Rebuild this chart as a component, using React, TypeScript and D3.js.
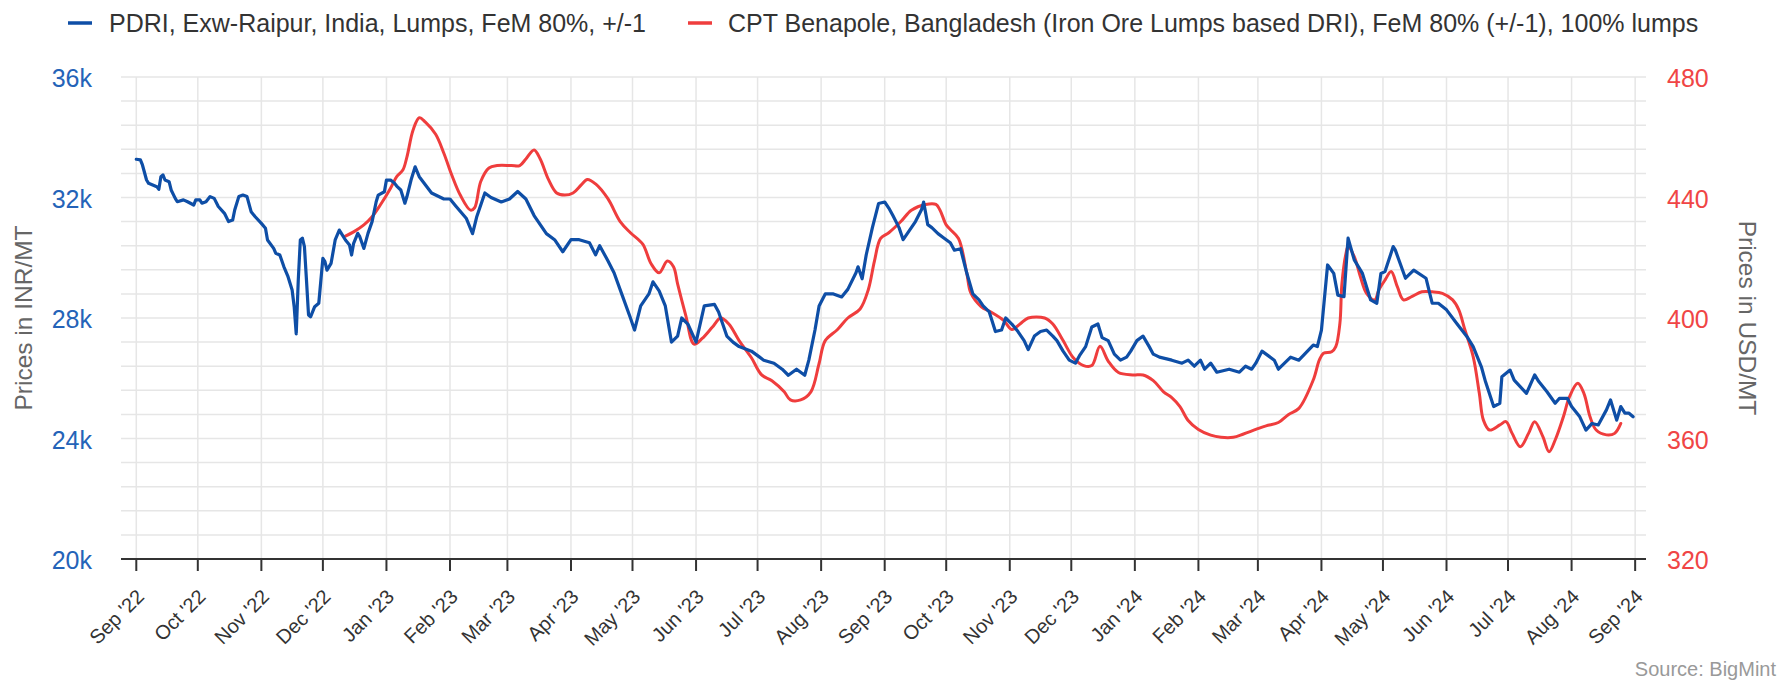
import React from 'react';
import * as d3 from 'd3';

const W = 1783;
const H = 681;
const M = { left: 121, right: 1646, top: 77, bottom: 559 };

const BLUE = '#0e4ea6';
const RED = '#ef3d3d';
const FONT = '"Liberation Sans", Arial, Helvetica, sans-serif';

const pdriLabel = 'PDRI, Exw-Raipur, India, Lumps, FeM 80%, +/-1';
const cptLabel = 'CPT Benapole, Bangladesh (Iron Ore Lumps based DRI), FeM 80% (+/-1), 100% lumps';
const leftTitle = 'Prices in INR/MT';
const rightTitle = 'Prices in USD/MT';
const sourceText = 'Source: BigMint';

const leftTicks = [20000, 24000, 28000, 32000, 36000];
const leftTickLabels = ['20k', '24k', '28k', '32k', '36k'];
const rightTicks = [320, 360, 400, 440, 480];
const rightTickLabels = ['320', '360', '400', '440', '480'];

const pdriSeries: [string, number][] = [
  ['2022-09-01', 33270], ['2022-09-03', 33250], ['2022-09-04', 33080], ['2022-09-06', 32580],
  ['2022-09-07', 32470], ['2022-09-09', 32415], ['2022-09-11', 32360], ['2022-09-12', 32270],
  ['2022-09-13', 32690], ['2022-09-14', 32750], ['2022-09-15', 32580], ['2022-09-17', 32525],
  ['2022-09-18', 32250], ['2022-09-20', 31970], ['2022-09-21', 31860], ['2022-09-24', 31920],
  ['2022-09-26', 31860], ['2022-09-29', 31750], ['2022-09-30', 31920], ['2022-10-02', 31920],
  ['2022-10-03', 31810], ['2022-10-05', 31860], ['2022-10-07', 32030], ['2022-10-09', 31970],
  ['2022-10-11', 31700], ['2022-10-14', 31475], ['2022-10-16', 31200], ['2022-10-18', 31250],
  ['2022-10-19', 31585], ['2022-10-21', 32030], ['2022-10-23', 32080], ['2022-10-25', 32030],
  ['2022-10-27', 31530], ['2022-10-29', 31360], ['2022-11-01', 31140], ['2022-11-03', 30980],
  ['2022-11-04', 30590], ['2022-11-07', 30310], ['2022-11-08', 30150], ['2022-11-10', 30090],
  ['2022-11-12', 29700], ['2022-11-14', 29370], ['2022-11-16', 28930], ['2022-11-17', 28375],
  ['2022-11-18', 27470], ['2022-11-19', 29260], ['2022-11-20', 30590], ['2022-11-21', 30650],
  ['2022-11-22', 30370], ['2022-11-23', 29260], ['2022-11-24', 28100], ['2022-11-25', 28040],
  ['2022-11-27', 28375], ['2022-11-29', 28490], ['2022-12-01', 29980], ['2022-12-02', 29870],
  ['2022-12-03', 29590], ['2022-12-05', 29815], ['2022-12-07', 30590], ['2022-12-09', 30920],
  ['2022-12-10', 30810], ['2022-12-12', 30590], ['2022-12-14', 30420], ['2022-12-15', 30090],
  ['2022-12-16', 30480], ['2022-12-18', 30810], ['2022-12-19', 30700], ['2022-12-21', 30310],
  ['2022-12-23', 30810], ['2022-12-25', 31200], ['2022-12-27', 31860], ['2022-12-28', 32080],
  ['2022-12-31', 32190], ['2023-01-01', 32580], ['2023-01-03', 32580], ['2023-01-05', 32470],
  ['2023-01-06', 32380], ['2023-01-08', 32250], ['2023-01-10', 31810], ['2023-01-11', 32030],
  ['2023-01-13', 32580], ['2023-01-15', 33020], ['2023-01-17', 32690], ['2023-01-23', 32150],
  ['2023-01-29', 31950], ['2023-02-01', 31950], ['2023-02-04', 31700], ['2023-02-09', 31300],
  ['2023-02-12', 30800], ['2023-02-14', 31350], ['2023-02-18', 32150], ['2023-02-21', 32000],
  ['2023-02-26', 31850], ['2023-03-02', 31950], ['2023-03-06', 32200], ['2023-03-10', 31950],
  ['2023-03-14', 31400], ['2023-03-20', 30800], ['2023-03-24', 30600], ['2023-03-28', 30200],
  ['2023-04-01', 30600], ['2023-04-05', 30600], ['2023-04-10', 30500], ['2023-04-13', 30100],
  ['2023-04-15', 30400], ['2023-04-19', 29900], ['2023-04-22', 29500], ['2023-04-26', 28750],
  ['2023-04-30', 28000], ['2023-05-02', 27600], ['2023-05-05', 28400], ['2023-05-09', 28800],
  ['2023-05-11', 29200], ['2023-05-14', 28900], ['2023-05-17', 28400], ['2023-05-20', 27200],
  ['2023-05-23', 27400], ['2023-05-25', 28000], ['2023-05-28', 27800], ['2023-06-01', 27200],
  ['2023-06-05', 28400], ['2023-06-10', 28450], ['2023-06-12', 28200], ['2023-06-16', 27400],
  ['2023-06-19', 27200], ['2023-06-22', 27050], ['2023-06-28', 26900], ['2023-07-02', 26700],
  ['2023-07-04', 26600], ['2023-07-09', 26500], ['2023-07-13', 26300], ['2023-07-16', 26100],
  ['2023-07-20', 26300], ['2023-07-24', 26100], ['2023-07-26', 26600], ['2023-07-29', 27600],
  ['2023-07-31', 28400], ['2023-08-03', 28800], ['2023-08-07', 28800], ['2023-08-11', 28700],
  ['2023-08-14', 28950], ['2023-08-18', 29500], ['2023-08-19', 29700], ['2023-08-21', 29300],
  ['2023-08-23', 30100], ['2023-08-26', 31000], ['2023-08-29', 31800], ['2023-09-01', 31850],
  ['2023-09-03', 31650], ['2023-09-05', 31400], ['2023-09-08', 31000], ['2023-09-10', 30600],
  ['2023-09-13', 30900], ['2023-09-16', 31200], ['2023-09-19', 31600], ['2023-09-20', 31850],
  ['2023-09-22', 31100], ['2023-09-24', 31000], ['2023-09-27', 30800], ['2023-09-30', 30650],
  ['2023-10-03', 30500], ['2023-10-05', 30250], ['2023-10-08', 30300], ['2023-10-11', 29500],
  ['2023-10-14', 28800], ['2023-10-17', 28600], ['2023-10-19', 28400], ['2023-10-22', 28200],
  ['2023-10-25', 27550], ['2023-10-28', 27600], ['2023-10-30', 28000], ['2023-11-02', 27800],
  ['2023-11-05', 27550], ['2023-11-08', 27250], ['2023-11-10', 26950], ['2023-11-13', 27400],
  ['2023-11-16', 27550], ['2023-11-19', 27600], ['2023-11-22', 27400], ['2023-11-24', 27250],
  ['2023-11-27', 26900], ['2023-11-30', 26600], ['2023-12-03', 26500], ['2023-12-05', 26750],
  ['2023-12-08', 27050], ['2023-12-11', 27700], ['2023-12-14', 27800], ['2023-12-16', 27350],
  ['2023-12-19', 27250], ['2023-12-22', 26800], ['2023-12-25', 26600], ['2023-12-28', 26700],
  ['2023-12-30', 26900], ['2024-01-02', 27250], ['2024-01-05', 27400], ['2024-01-08', 27050],
  ['2024-01-10', 26800], ['2024-01-13', 26700], ['2024-01-19', 26600], ['2024-01-24', 26500],
  ['2024-01-27', 26600], ['2024-01-30', 26400], ['2024-02-02', 26600], ['2024-02-04', 26300],
  ['2024-02-07', 26500], ['2024-02-10', 26200], ['2024-02-16', 26300], ['2024-02-21', 26200],
  ['2024-02-24', 26400], ['2024-02-27', 26300], ['2024-02-29', 26500], ['2024-03-03', 26900],
  ['2024-03-06', 26750], ['2024-03-09', 26600], ['2024-03-11', 26300], ['2024-03-14', 26500],
  ['2024-03-17', 26700], ['2024-03-21', 26600], ['2024-03-28', 27100], ['2024-03-30', 27050],
  ['2024-04-01', 27600], ['2024-04-04', 29760], ['2024-04-07', 29480], ['2024-04-09', 28760],
  ['2024-04-12', 28710], ['2024-04-14', 30650], ['2024-04-17', 29930], ['2024-04-21', 29480],
  ['2024-04-25', 28600], ['2024-04-28', 28490], ['2024-04-30', 29480], ['2024-05-02', 29540],
  ['2024-05-06', 30370], ['2024-05-07', 30260], ['2024-05-12', 29320], ['2024-05-16', 29590],
  ['2024-05-22', 29320], ['2024-05-25', 28490], ['2024-05-28', 28490], ['2024-06-01', 28270],
  ['2024-06-06', 27820], ['2024-06-11', 27380], ['2024-06-14', 27050], ['2024-06-18', 26380],
  ['2024-06-20', 25890], ['2024-06-24', 25060], ['2024-06-27', 25170], ['2024-06-28', 26050],
  ['2024-07-02', 26270], ['2024-07-04', 25940], ['2024-07-10', 25500], ['2024-07-14', 26110],
  ['2024-07-16', 25890], ['2024-07-20', 25550], ['2024-07-24', 25170], ['2024-07-26', 25330],
  ['2024-07-30', 25330], ['2024-08-01', 25060], ['2024-08-05', 24720], ['2024-08-08', 24280],
  ['2024-08-11', 24500], ['2024-08-14', 24450], ['2024-08-18', 24950], ['2024-08-20', 25280],
  ['2024-08-23', 24610], ['2024-08-25', 25060], ['2024-08-27', 24840], ['2024-08-29', 24840],
  ['2024-08-31', 24720],
];

const cptSeries: [string, number][] = [
  ['2022-12-12', 427.2], ['2022-12-16', 428.6], ['2022-12-21', 430.9], ['2022-12-25', 433.6],
  ['2022-12-29', 437.5], ['2023-01-03', 443.1], ['2023-01-06', 446.9], ['2023-01-09', 449.1],
  ['2023-01-11', 453.5], ['2023-01-14', 462.4], ['2023-01-17', 466.5], ['2023-01-20', 465.0],
  ['2023-01-25', 461.0], ['2023-01-29', 454.7], ['2023-02-02', 447.2], ['2023-02-06', 440.8],
  ['2023-02-11', 435.8], ['2023-02-13', 436.6], ['2023-02-16', 445.3], ['2023-02-20', 449.8],
  ['2023-02-24', 450.6], ['2023-03-03', 450.6], ['2023-03-07', 450.6], ['2023-03-10', 452.8],
  ['2023-03-14', 455.8], ['2023-03-17', 452.8], ['2023-03-21', 446.0], ['2023-03-25', 441.5],
  ['2023-03-29', 440.8], ['2023-04-02', 441.5], ['2023-04-06', 444.2], ['2023-04-09', 446.0],
  ['2023-04-13', 444.5], ['2023-04-19', 439.6], ['2023-04-25', 432.0], ['2023-04-30', 428.3],
  ['2023-05-06', 424.5], ['2023-05-10', 418.1], ['2023-05-14', 415.0], ['2023-05-18', 418.9],
  ['2023-05-21', 417.0], ['2023-05-23', 411.3], ['2023-05-27', 400.8], ['2023-05-31', 391.3],
  ['2023-06-04', 393.2], ['2023-06-09', 397.0], ['2023-06-13', 400.0], ['2023-06-17', 398.0],
  ['2023-06-22', 392.5], ['2023-06-28', 386.8], ['2023-07-03', 381.1], ['2023-07-08', 379.2],
  ['2023-07-14', 375.5], ['2023-07-17', 372.8], ['2023-07-22', 372.8], ['2023-07-27', 375.5],
  ['2023-07-31', 384.9], ['2023-08-03', 392.5], ['2023-08-09', 396.2], ['2023-08-14', 400.0],
  ['2023-08-20', 403.0], ['2023-08-24', 409.4], ['2023-08-27', 418.9], ['2023-08-30', 426.4],
  ['2023-09-03', 428.3], ['2023-09-09', 432.1], ['2023-09-14', 435.8], ['2023-09-21', 437.7],
  ['2023-09-26', 437.7], ['2023-09-28', 435.8], ['2023-10-01', 430.9], ['2023-10-03', 429.4],
  ['2023-10-07', 426.4], ['2023-10-11', 415.0], ['2023-10-13', 408.3], ['2023-10-18', 403.8],
  ['2023-10-23', 401.9], ['2023-10-29', 399.2], ['2023-11-02', 396.2], ['2023-11-06', 398.0],
  ['2023-11-10', 400.0], ['2023-11-18', 400.0], ['2023-11-22', 398.0], ['2023-11-27', 392.5],
  ['2023-12-02', 386.8], ['2023-12-07', 384.2], ['2023-12-11', 384.2], ['2023-12-15', 390.6],
  ['2023-12-19', 385.7], ['2023-12-24', 381.9], ['2023-12-31', 381.1], ['2024-01-05', 381.1],
  ['2024-01-10', 379.2], ['2024-01-15', 375.5], ['2024-01-19', 373.6], ['2024-01-23', 370.6],
  ['2024-01-27', 366.0], ['2024-02-01', 363.0], ['2024-02-07', 361.1], ['2024-02-12', 360.4],
  ['2024-02-18', 360.4], ['2024-02-23', 361.5], ['2024-02-29', 363.0], ['2024-03-05', 364.2],
  ['2024-03-11', 365.3], ['2024-03-16', 368.0], ['2024-03-21', 370.0], ['2024-03-28', 379.4],
  ['2024-03-31', 386.1], ['2024-04-02', 388.3], ['2024-04-06', 388.8], ['2024-04-08', 390.5],
  ['2024-04-10', 398.2], ['2024-04-11', 411.5], ['2024-04-13', 421.5], ['2024-04-14', 423.7],
  ['2024-04-17', 420.4], ['2024-04-20', 413.7], ['2024-04-23', 408.2], ['2024-04-27', 406.0],
  ['2024-04-29', 409.3], ['2024-05-02', 412.6], ['2024-05-05', 415.4], ['2024-05-08', 410.4],
  ['2024-05-11', 406.0], ['2024-05-15', 407.1], ['2024-05-20', 408.7], ['2024-05-25', 408.7],
  ['2024-05-30', 408.2], ['2024-06-04', 406.0], ['2024-06-07', 402.7], ['2024-06-10', 396.0],
  ['2024-06-14', 387.2], ['2024-06-17', 375.0], ['2024-06-19', 366.1], ['2024-06-22', 362.8],
  ['2024-06-27', 364.5], ['2024-06-30', 365.6], ['2024-07-03', 361.7], ['2024-07-07', 357.3],
  ['2024-07-11', 361.7], ['2024-07-14', 365.6], ['2024-07-18', 360.6], ['2024-07-21', 355.6],
  ['2024-07-24', 359.5], ['2024-07-28', 367.2], ['2024-07-31', 373.9], ['2024-08-04', 378.3],
  ['2024-08-07', 375.0], ['2024-08-10', 367.2], ['2024-08-13', 362.8], ['2024-08-18', 361.2],
  ['2024-08-22', 361.7], ['2024-08-25', 365.0],
];

const xStart = new Date(Date.UTC(2022, 7, 24, 13));
const xEnd = new Date(Date.UTC(2024, 8, 6, 7));
const firstTick = new Date(Date.UTC(2022, 8, 1));
const lastTick = new Date(Date.UTC(2024, 8, 1));

export default function App() {
  const x = d3.scaleUtc().domain([xStart, xEnd]).range([M.left, M.right]);
  const yL = d3.scaleLinear().domain([20000, 36000]).range([M.bottom, M.top]);
  const yR = d3.scaleLinear().domain([320, 480]).range([M.bottom, M.top]);

  const months = d3.utcMonth.range(firstTick, d3.utcDay.offset(lastTick, 1));
  const fmt = d3.utcFormat("%b '%y");
  const gridVals = d3.range(20800, 36001, 800);

  const pdri = pdriSeries.map(([d, v]) => [new Date(d + 'T00:00:00Z'), v] as [Date, number]);
  const cpt = cptSeries.map(([d, v]) => [new Date(d + 'T00:00:00Z'), v] as [Date, number]);

  const lineL = d3
    .line<[Date, number]>()
    .x((d) => x(d[0]))
    .y((d) => yL(d[1]));
  const lineR = d3
    .line<[Date, number]>()
    .curve(d3.curveCatmullRom.alpha(0.5))
    .x((d) => x(d[0]))
    .y((d) => yR(d[1]));

  const tickLen = 12;

  return (
    <svg
      width={W}
      height={H}
      viewBox={`0 0 ${W} ${H}`}
      style={{ position: 'absolute', left: 0, top: 0, display: 'block', background: '#fff' }}
      fontFamily={FONT}
    >
      <rect x={0} y={0} width={W} height={H} fill="#fff" />
      {gridVals.map((v) => (
        <line key={'h' + v} x1={M.left} x2={M.right} y1={yL(v)} y2={yL(v)} stroke="#e6e6e6" strokeWidth={1.5} />
      ))}
      {months.map((m) => (
        <line key={'v' + m.getTime()} x1={x(m)} x2={x(m)} y1={M.top} y2={M.bottom} stroke="#e6e6e6" strokeWidth={1.5} />
      ))}
      <line x1={M.left} x2={M.right} y1={M.bottom} y2={M.bottom} stroke="#333" strokeWidth={2} />
      {months.map((m) => (
        <line key={'t' + m.getTime()} x1={x(m)} x2={x(m)} y1={M.bottom} y2={M.bottom + tickLen} stroke="#333" strokeWidth={2} />
      ))}
      {months.map((m) => (
        <text
          key={'l' + m.getTime()}
          transform={`translate(${x(m) + 9},${M.bottom + 39}) rotate(-45)`}
          textAnchor="end"
          fontSize={20}
          fill="#333"
        >
          {fmt(m)}
        </text>
      ))}
      {leftTicks.map((v, i) => (
        <text key={'yl' + v} x={92} y={yL(v) + 10} textAnchor="end" fontSize={25} fill="#2463b8">
          {leftTickLabels[i]}
        </text>
      ))}
      {rightTicks.map((v, i) => (
        <text key={'yr' + v} x={1667} y={yR(v) + 10} textAnchor="start" fontSize={25} fill="#f04545">
          {rightTickLabels[i]}
        </text>
      ))}
      <text
        transform={`translate(32,${(M.top + M.bottom) / 2}) rotate(-90)`}
        textAnchor="middle"
        fontSize={24.5}
        fill="#666"
      >
        {leftTitle}
      </text>
      <text
        transform={`translate(1739,${(M.top + M.bottom) / 2}) rotate(90)`}
        textAnchor="middle"
        fontSize={24.5}
        fill="#666"
      >
        {rightTitle}
      </text>
      <path d={lineR(cpt) || ''} fill="none" stroke={RED} strokeWidth={3} strokeLinejoin="round" strokeLinecap="round" />
      <path d={lineL(pdri) || ''} fill="none" stroke={BLUE} strokeWidth={3.2} strokeLinejoin="round" strokeLinecap="round" />
      <line x1={68} x2={92} y1={23} y2={23} stroke={BLUE} strokeWidth={3.5} />
      <text x={109} y={32} fontSize={25} fill="#333">
        {pdriLabel}
      </text>
      <line x1={688} x2={712} y1={23} y2={23} stroke={RED} strokeWidth={3.5} />
      <text x={728} y={32} fontSize={25} fill="#333">
        {cptLabel}
      </text>
      <text x={1776} y={676} textAnchor="end" fontSize={20} fill="#999">
        {sourceText}
      </text>
    </svg>
  );
}
